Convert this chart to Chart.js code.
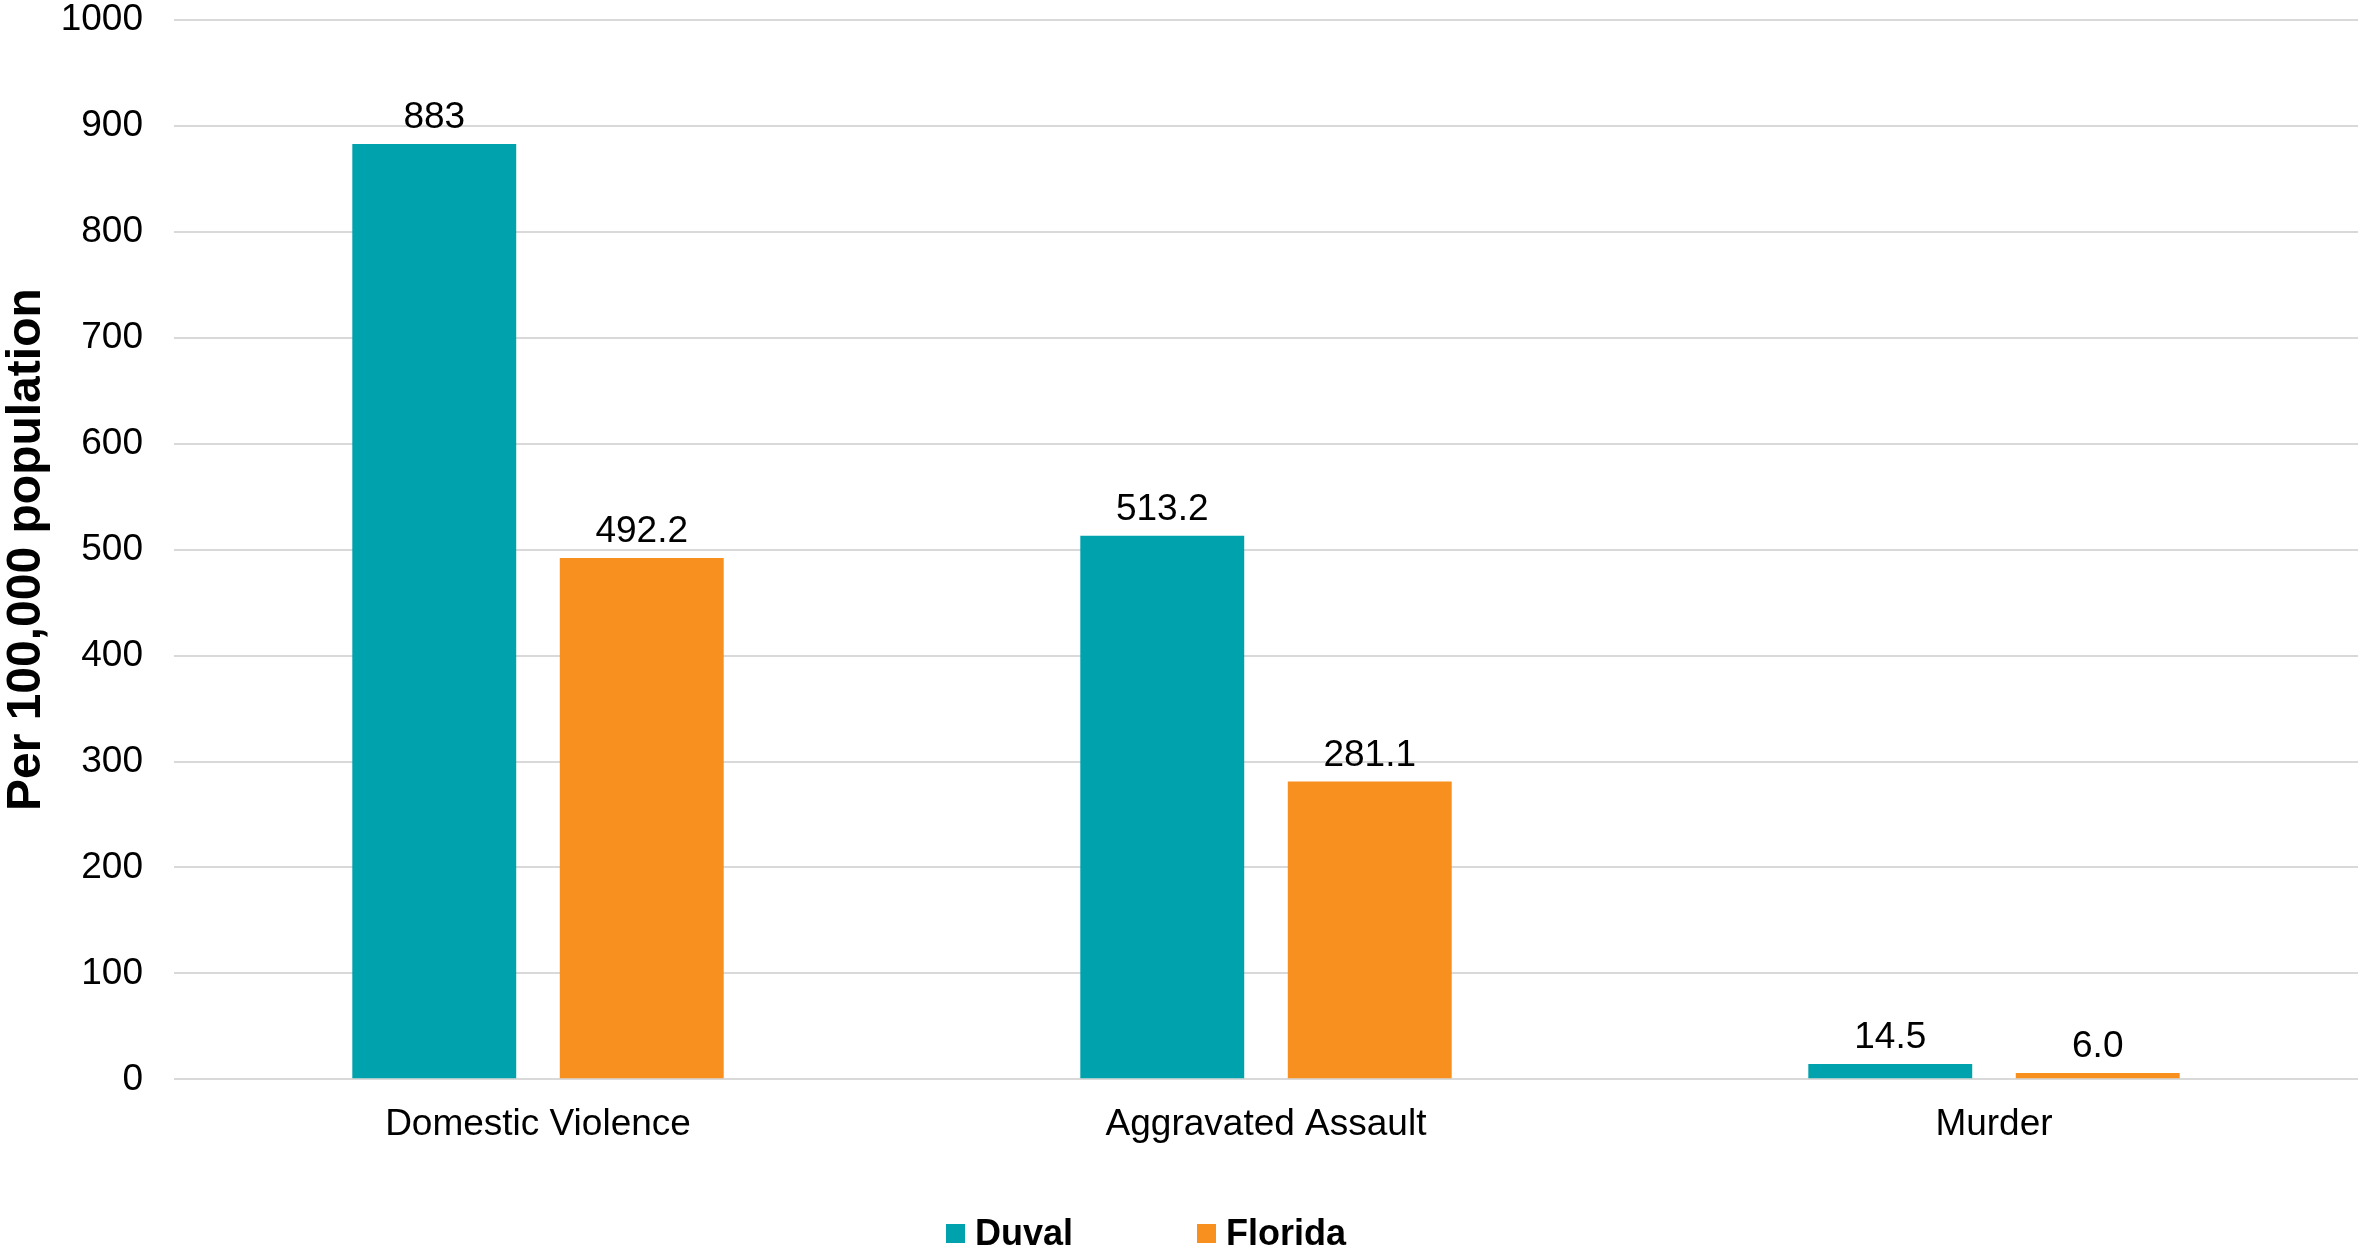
<!DOCTYPE html>
<html>
<head>
<meta charset="utf-8">
<script src="https://cdn.jsdelivr.net/npm/chart.js@4.4.1/dist/chart.umd.min.js"></script>
<style>
  body { margin: 0; background: #fff; overflow: hidden; }
  #wrap { position: relative; width: 2363px; height: 1254px; }
  #legend { position: absolute; left: 946px; top: 1213px; display: flex; align-items: center;
            font-family: "Liberation Sans", Arial, sans-serif; font-weight: bold; font-size: 36px; color: #000; }
  #legend .item { display: flex; align-items: center; line-height: 40px; }
  #legend .item + .item { margin-left: 124px; }
  #legend .box { width: 19px; height: 19px; margin-right: 10px; }
</style>
</head>
<body>
<div id="wrap">
  <canvas id="crimeChart" width="2363" height="1254"></canvas>
  <div id="legend"></div>
</div>
<script>
const categories = ['Domestic Violence', 'Aggravated Assault', 'Murder'];
const duvalValues = [883, 513.2, 14.5];
const floridaValues = [492.2, 281.1, 6.0];
const duvalLabels = ['883', '513.2', '14.5'];
const floridaLabels = ['492.2', '281.1', '6.0'];
const seriesNames = ['Duval', 'Florida'];
const seriesColors = ['#00A2AE', '#F7901E'];
const yTicks = [0, 100, 200, 300, 400, 500, 600, 700, 800, 900, 1000];

const fontFamily = '"Liberation Sans", Arial, sans-serif';

// value labels above each bar
const barLabels = {
    id: 'barLabels',
    afterDatasetsDraw(chart) {
        const ctx = chart.ctx;
        const texts = [duvalLabels, floridaLabels];
        ctx.save();
        ctx.font = '37px ' + fontFamily;
        ctx.fillStyle = '#000';
        ctx.textAlign = 'center';
        ctx.textBaseline = 'alphabetic';
        chart.data.datasets.forEach((ds, i) => {
            chart.getDatasetMeta(i).data.forEach((bar, j) => {
                ctx.fillText(texts[i][j], bar.x, bar.y - 16);
            });
        });
        ctx.restore();
    }
};

const ctx = document.getElementById('crimeChart').getContext('2d');
const crimeChart = new Chart(ctx, {
    type: 'bar',
    data: {
        labels: categories,
        datasets: [
            { label: seriesNames[0], data: duvalValues, backgroundColor: seriesColors[0] },
            { label: seriesNames[1], data: floridaValues, backgroundColor: seriesColors[1] }
        ]
    },
    options: {
        responsive: false,
        animation: false,
        devicePixelRatio: 1,
        categoryPercentage: 0.57,
        barPercentage: 0.79,
        layout: { padding: { top: 0, right: 5, bottom: 84, left: 0 } },
        plugins: {
            legend: { display: false },
            tooltip: { enabled: false }
        },
        scales: {
            x: {
                grid: { display: false, drawTicks: false },
                border: { display: false },
                ticks: { color: '#000', padding: 25, font: { family: fontFamily, size: 37, lineHeight: 1.1 } }
            },
            y: {
                min: 0,
                max: 1000,
                afterBuildTicks: axis => { axis.ticks = yTicks.map(v => ({ value: v })); },
                afterFit: axis => {
                    axis.width = 174;
                    axis.paddingTop = 20;
                    axis.paddingBottom = 0;
                },
                grid: { color: '#d9d9d9', lineWidth: 2, drawTicks: false },
                border: { display: false },
                ticks: {
                    color: '#000',
                    padding: 31,
                    font: { family: fontFamily, size: 37, lineHeight: 1.1 },
                    callback: v => String(v)
                },
                title: {
                    display: true,
                    text: 'Per 100,000 population',
                    color: '#000',
                    padding: { top: 0, bottom: 0 },
                    font: { family: fontFamily, size: 48, weight: 'bold', lineHeight: 1.1 }
                }
            }
        }
    },
    plugins: [barLabels]
});

// html legend built from the datasets
const legendEl = document.getElementById('legend');
crimeChart.data.datasets.forEach(ds => {
    const item = document.createElement('div');
    item.className = 'item';
    const box = document.createElement('span');
    box.className = 'box';
    box.style.background = ds.backgroundColor;
    const txt = document.createElement('span');
    txt.textContent = ds.label;
    item.appendChild(box);
    item.appendChild(txt);
    legendEl.appendChild(item);
});
</script>
</body>
</html>
